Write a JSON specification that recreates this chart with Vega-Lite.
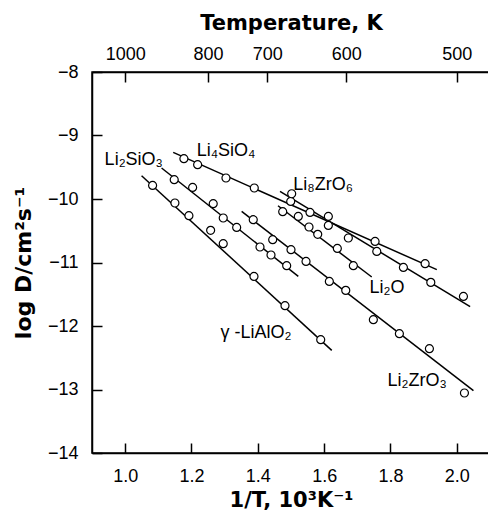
{
  "$schema": "https://vega.github.io/schema/vega-lite/v6.json",
  "width": 398,
  "height": 381,
  "autosize": {"type": "none"},
  "padding": {"left": 92, "top": 72, "right": 0, "bottom": 71},
  "background": "white",
  "config": {
    "view": {"stroke": "black", "strokeWidth": 1.5},
    "axis": {
      "grid": false,
      "ticks": true,
      "domainColor": "black",
      "domainWidth": 1.5,
      "tickColor": "black",
      "tickWidth": 1.5,
      "tickSize": -10,
      "labelColor": "black",
      "labelFont": "Liberation Sans",
      "labelFontSize": 18,
      "titleFont": "DejaVu Sans",
      "titleFontWeight": "bold",
      "titleFontSize": 21,
      "titleColor": "black",
      "zindex": 1
    }
  },
  "datasets": {
    "lines": [
      {"series": "Li4SiO4", "invT": 1.1448, "logD": -9.266},
      {"series": "Li4SiO4", "invT": 1.9397, "logD": -11.113},
      {"series": "Li8ZrO6", "invT": 1.4668, "logD": -9.880},
      {"series": "Li8ZrO6", "invT": 2.0401, "logD": -11.696},
      {"series": "Li2O", "invT": 1.4608, "logD": -10.106},
      {"series": "Li2O", "invT": 1.7435, "logD": -11.228},
      {"series": "Li2ZrO3", "invT": 1.3512, "logD": -10.195},
      {"series": "Li2ZrO3", "invT": 2.0501, "logD": -13.019},
      {"series": "Li2SiO3", "invT": 1.1098, "logD": -9.512},
      {"series": "Li2SiO3", "invT": 1.5220, "logD": -11.219},
      {"series": "LiAlO2", "invT": 1.0495, "logD": -9.633},
      {"series": "LiAlO2", "invT": 1.6228, "logD": -12.384}
    ],
    "points": [
      {"series": "Li4SiO4", "invT": 1.1771, "logD": -9.365},
      {"series": "Li4SiO4", "invT": 1.2185, "logD": -9.460},
      {"series": "Li4SiO4", "invT": 1.3039, "logD": -9.669},
      {"series": "Li4SiO4", "invT": 1.3893, "logD": -9.827},
      {"series": "Li4SiO4", "invT": 1.4991, "logD": -10.038},
      {"series": "Li4SiO4", "invT": 1.6126, "logD": -10.416},
      {"series": "Li4SiO4", "invT": 1.7535, "logD": -10.668},
      {"series": "Li4SiO4", "invT": 1.9044, "logD": -11.019},
      {"series": "Li8ZrO6", "invT": 1.5021, "logD": -9.917},
      {"series": "Li8ZrO6", "invT": 1.5573, "logD": -10.211},
      {"series": "Li8ZrO6", "invT": 1.6126, "logD": -10.274},
      {"series": "Li8ZrO6", "invT": 1.6729, "logD": -10.614},
      {"series": "Li8ZrO6", "invT": 1.7586, "logD": -10.825},
      {"series": "Li8ZrO6", "invT": 1.8389, "logD": -11.077},
      {"series": "Li8ZrO6", "invT": 1.9215, "logD": -11.313},
      {"series": "Li8ZrO6", "invT": 2.0199, "logD": -11.534},
      {"series": "Li2O", "invT": 1.4750, "logD": -10.200},
      {"series": "Li2O", "invT": 1.5220, "logD": -10.274},
      {"series": "Li2O", "invT": 1.5543, "logD": -10.441},
      {"series": "Li2O", "invT": 1.5806, "logD": -10.557},
      {"series": "Li2O", "invT": 1.6397, "logD": -10.778},
      {"series": "Li2O", "invT": 1.6880, "logD": -11.050},
      {"series": "Li2ZrO3", "invT": 1.3862, "logD": -10.326},
      {"series": "Li2ZrO3", "invT": 1.4448, "logD": -10.641},
      {"series": "Li2ZrO3", "invT": 1.5000, "logD": -10.798},
      {"series": "Li2ZrO3", "invT": 1.5453, "logD": -10.983},
      {"series": "Li2ZrO3", "invT": 1.6156, "logD": -11.298},
      {"series": "Li2ZrO3", "invT": 1.6651, "logD": -11.439},
      {"series": "Li2ZrO3", "invT": 1.7483, "logD": -11.901},
      {"series": "Li2ZrO3", "invT": 1.8268, "logD": -12.121},
      {"series": "Li2ZrO3", "invT": 1.9173, "logD": -12.357},
      {"series": "Li2ZrO3", "invT": 2.0229, "logD": -13.055},
      {"series": "Li2SiO3", "invT": 1.1479, "logD": -9.696},
      {"series": "Li2SiO3", "invT": 1.2034, "logD": -9.817},
      {"series": "Li2SiO3", "invT": 1.2655, "logD": -10.074},
      {"series": "Li2SiO3", "invT": 1.2957, "logD": -10.299},
      {"series": "Li2SiO3", "invT": 1.3362, "logD": -10.447},
      {"series": "Li2SiO3", "invT": 1.4065, "logD": -10.756},
      {"series": "Li2SiO3", "invT": 1.4397, "logD": -10.882},
      {"series": "Li2SiO3", "invT": 1.4870, "logD": -11.050},
      {"series": "LiAlO2", "invT": 1.0827, "logD": -9.786},
      {"series": "LiAlO2", "invT": 1.1500, "logD": -10.063},
      {"series": "LiAlO2", "invT": 1.1922, "logD": -10.263},
      {"series": "LiAlO2", "invT": 1.2577, "logD": -10.494},
      {"series": "LiAlO2", "invT": 1.2957, "logD": -10.704},
      {"series": "LiAlO2", "invT": 1.3884, "logD": -11.219},
      {"series": "LiAlO2", "invT": 1.4819, "logD": -11.680},
      {"series": "LiAlO2", "invT": 1.5896, "logD": -12.216}
    ],
    "labels": [
      {"label": "Li₂SiO₃", "invT": 1.026, "logD": -9.381},
      {"label": "Li₄SiO₄", "invT": 1.304, "logD": -9.247},
      {"label": "Li₈ZrO₆", "invT": 1.5966, "logD": -9.775},
      {"label": "Li₂O", "invT": 1.7897, "logD": -11.397},
      {"label": "γ -LiAlO₂", "invT": 1.3944, "logD": -12.106},
      {"label": "Li₂ZrO₃", "invT": 1.8802, "logD": -12.861}
    ]
  },
  "layer": [
    {
      "data": {"name": "lines"},
      "mark": {"type": "line", "color": "black", "strokeWidth": 1.5},
      "encoding": {
        "x": {
          "field": "invT", "type": "quantitative",
          "scale": {"domain": [0.9, 2.1], "nice": false, "zero": false},
          "axis": {"orient": "bottom", "values": [1.0, 1.2, 1.4, 1.6, 1.8, 2.0], "format": ".1f", "title": "1/T, 10³K⁻¹", "labelPadding": 24, "titlePadding": 4}
        },
        "y": {
          "field": "logD", "type": "quantitative",
          "scale": {"domain": [-14, -8], "nice": false, "zero": false},
          "axis": {"orient": "left", "zindex": 1, "tickSize": -10, "values": [-14, -13, -12, -11, -10, -9, -8], "format": "d", "title": "log D/cm²s⁻¹", "labelPadding": 24, "titlePadding": 12, "titleFontSize": 22}
        },
        "detail": {"field": "series"}
      }
    },
    {
      "data": {"name": "points"},
      "mark": {"type": "point", "shape": "circle", "filled": true, "fill": "white", "stroke": "black", "strokeWidth": 1.2, "size": 64, "opacity": 1},
      "encoding": {
        "x": {
          "field": "invT", "type": "quantitative",
          "axis": {"orient": "top", "values": [1.0, 1.25, 1.4285714, 1.6666667, 2.0], "labelExpr": "format(round(1000/datum.value), 'd')", "title": "Temperature, K", "labelPadding": 19, "titlePadding": 12}
        },
        "y": {"field": "logD", "type": "quantitative", "axis": null}
      }
    },
    {
      "data": {"name": "labels"},
      "mark": {"type": "text", "font": "Liberation Sans", "fontSize": 18, "color": "black", "align": "center", "baseline": "middle"},
      "encoding": {
        "x": {"field": "invT", "type": "quantitative", "axis": null},
        "y": {"field": "logD", "type": "quantitative", "axis": null},
        "text": {"field": "label"}
      }
    }
  ],
  "resolve": {"axis": {"x": "independent", "y": "independent"}}
}
